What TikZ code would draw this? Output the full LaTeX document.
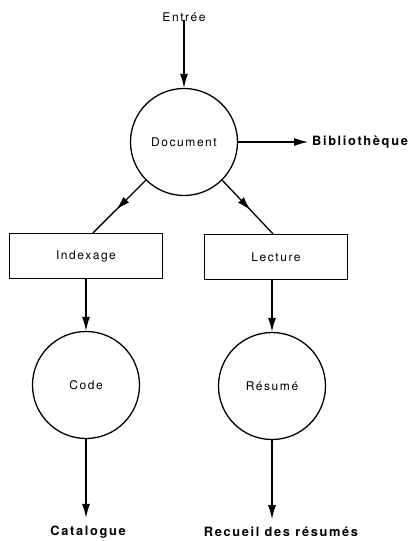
\documentclass[tikz,border=0pt]{standalone}
\usepackage{fontspec}
\setmainfont{TeX Gyre Heros}[LetterSpace=13]
\usetikzlibrary{
  arrows.meta,
  decorations.markings,
}

\begin{document}
\begin{tikzpicture}[x=1pt, y=-1pt, line width=1.3pt,
  every node/.style={font=\fontsize{12}{14}\selectfont},
  disque/.style={draw, circle, minimum size=107pt, inner sep=0pt},
  boite/.style={draw, rectangle, minimum height=45pt},
  sortie/.style={font=\fontsize{12.8}{15}\selectfont\bfseries},
  fleche/.style={-{Latex[length=14pt,width=8pt]}},
  milieu/.style={postaction={decorate}, decoration={markings,
    mark=at position 0.56 with {\arrow{Latex[length=14pt,width=8pt]}}}},
]
\useasboundingbox (0,0) rectangle (409,541);

\node (entree) at (184,17) {Entrée};
\node[disque] (document) at (184,142) {Document};
\node[sortie] (biblio) at (360,142) {Bibliothèque};
\node[boite, minimum width=153pt] (indexage) at (86,256) {Indexage};
\node[boite, minimum width=143pt] (lecture) at (276,257) {Lecture};
\node[disque] (code) at (86,385) {Code};
\node[disque] (resume) at (272,386) {Résumé};
\node[sortie] (catalogue) at (88,532) {Catalogue};
\node[sortie] (recueil) at (281,532) {Recueil des résumés};

\draw[fleche] (entree.south) ++(0,-5) -- (document.north);
\draw[fleche] (document.east) -- (biblio.west);
\draw[milieu] (document.-135) -- ([xshift=7pt]indexage.north);
\draw[milieu] (document.-45) -- ([xshift=-3pt]lecture.north);
\draw[fleche] (indexage.south) -- (code.north);
\draw[fleche] (lecture.south -| resume.north) -- (resume.north);
\draw[fleche] (code.south) -- ([yshift=4pt]catalogue.north -| code.south);
\draw[fleche] (resume.south) -- ([yshift=4pt]recueil.north -| resume.south);
\end{tikzpicture}
\end{document}
